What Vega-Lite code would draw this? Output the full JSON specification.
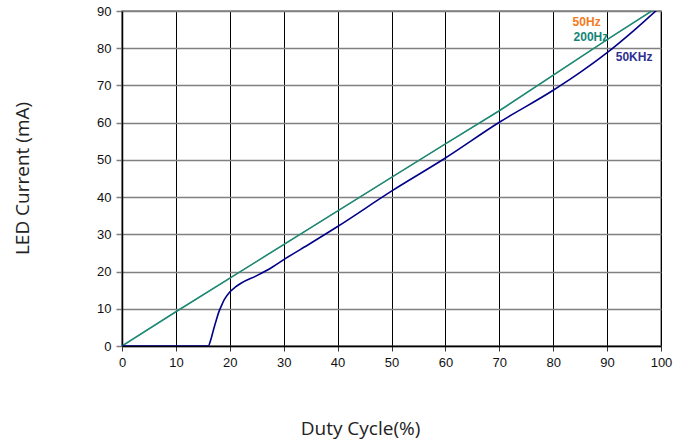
{
  "$schema": "https://vega.github.io/schema/vega-lite/v6.json",
  "width": 539,
  "height": 335,
  "autosize": {"type": "none"},
  "padding": {"left": 122, "top": 11, "right": 30, "bottom": 96},
  "background": "white",
  "config": {
    "view": {"stroke": "#808080", "strokeWidth": 1.5},
    "font": "Liberation Sans"
  },
  "datasets": {
    "curves": [
      {"series": "50Hz", "duty": 0, "current": 0},
      {"series": "50Hz", "duty": 10, "current": 9.2},
      {"series": "50Hz", "duty": 50, "current": 45.3},
      {"series": "50Hz", "duty": 60, "current": 54.3},
      {"series": "50Hz", "duty": 70, "current": 63.2},
      {"series": "50Hz", "duty": 90, "current": 82.3},
      {"series": "50Hz", "duty": 100, "current": 91.6},
      {"series": "200Hz", "duty": 0, "current": 0},
      {"series": "200Hz", "duty": 10, "current": 9.2},
      {"series": "200Hz", "duty": 50, "current": 45.3},
      {"series": "200Hz", "duty": 60, "current": 54.3},
      {"series": "200Hz", "duty": 70, "current": 63.2},
      {"series": "200Hz", "duty": 90, "current": 82.3},
      {"series": "200Hz", "duty": 100, "current": 91.6},
      {"series": "50KHz", "duty": 0, "current": 0},
      {"series": "50KHz", "duty": 16, "current": 0},
      {"series": "50KHz", "duty": 16.5, "current": 1.8},
      {"series": "50KHz", "duty": 17, "current": 4.5},
      {"series": "50KHz", "duty": 17.5, "current": 7},
      {"series": "50KHz", "duty": 18, "current": 9.3},
      {"series": "50KHz", "duty": 18.5, "current": 11},
      {"series": "50KHz", "duty": 19, "current": 12.5},
      {"series": "50KHz", "duty": 20, "current": 14.5},
      {"series": "50KHz", "duty": 21, "current": 15.8},
      {"series": "50KHz", "duty": 22, "current": 16.8},
      {"series": "50KHz", "duty": 25, "current": 18.9},
      {"series": "50KHz", "duty": 28, "current": 21.3},
      {"series": "50KHz", "duty": 30, "current": 23.2},
      {"series": "50KHz", "duty": 35, "current": 27.6},
      {"series": "50KHz", "duty": 40, "current": 32.1},
      {"series": "50KHz", "duty": 50, "current": 41.6},
      {"series": "50KHz", "duty": 60, "current": 50.5},
      {"series": "50KHz", "duty": 70, "current": 60.1},
      {"series": "50KHz", "duty": 80, "current": 68.7},
      {"series": "50KHz", "duty": 85, "current": 73.5},
      {"series": "50KHz", "duty": 90, "current": 78.8},
      {"series": "50KHz", "duty": 95, "current": 84.8},
      {"series": "50KHz", "duty": 100, "current": 91.3}
    ],
    "labels": [
      {"series": "50Hz", "duty": 86.2, "current": 87.0},
      {"series": "200Hz", "duty": 87.0, "current": 83.0},
      {"series": "50KHz", "duty": 95.0, "current": 77.6}
    ]
  },
  "encoding": {
    "x": {
      "field": "duty", "type": "quantitative",
      "scale": {"domain": [0, 100], "nice": false},
      "axis": {
        "values": [0, 10, 20, 30, 40, 50, 60, 70, 80, 90, 100],
        "title": "Duty Cycle(%)",
        "titleFont": "Open Sans", "titleFontSize": 19, "titleFontWeight": "normal", "titleColor": "#222",
        "titleX": 238, "titleY": 82, "titleBaseline": "middle", "titleAlign": "center",
        "labelFontSize": 13, "labelColor": "#111", "labelPadding": 5,
        "labelFlush": false, "labelOverlap": false,
        "grid": true, "gridColor": "#000", "gridWidth": 1,
        "domainColor": "#000", "domainWidth": 1.5,
        "tickColor": "#333", "tickSize": 5
      }
    },
    "y": {
      "field": "current", "type": "quantitative",
      "scale": {"domain": [0, 90], "nice": false},
      "axis": {
        "values": [0, 10, 20, 30, 40, 50, 60, 70, 80, 90],
        "title": "LED Current (mA)",
        "titleFont": "Open Sans", "titleFontSize": 19, "titleFontWeight": "normal", "titleColor": "#222",
        "titleX": -100, "titleY": 167, "titleAlign": "center", "titleBaseline": "middle",
        "labelFontSize": 13, "labelColor": "#111", "labelPadding": 5,
        "labelFlush": false, "labelOverlap": false,
        "grid": true, "gridColor": "#808080", "gridWidth": 1.5,
        "domainColor": "#000", "domainWidth": 1.5,
        "tickColor": "#808080", "tickSize": 6, "tickWidth": 1.5
      }
    }
  },
  "layer": [
    {
      "data": {"name": "curves"},
      "transform": [{"filter": "datum.series === '50Hz'"}],
      "mark": {"type": "line", "clip": true, "strokeWidth": 1, "color": "#f47a20"}
    },
    {
      "data": {"name": "curves"},
      "transform": [{"filter": "datum.series === '200Hz'"}],
      "mark": {"type": "line", "clip": true, "strokeWidth": 1.6, "color": "#1a8a78"}
    },
    {
      "data": {"name": "curves"},
      "transform": [{"filter": "datum.series === '50KHz'"}],
      "mark": {"type": "line", "clip": true, "strokeWidth": 1.6, "color": "#000088", "interpolate": "monotone"}
    },
    {
      "data": {"name": "labels"},
      "mark": {"type": "text", "fontWeight": "bold", "fontSize": 12, "font": "Liberation Sans", "align": "center", "baseline": "middle"},
      "encoding": {
        "text": {"field": "series"},
        "color": {
          "field": "series", "type": "nominal",
          "scale": {"domain": ["50Hz", "200Hz", "50KHz"], "range": ["#f47a20", "#138577", "#2e3192"]},
          "legend": null
        }
      }
    }
  ]
}
